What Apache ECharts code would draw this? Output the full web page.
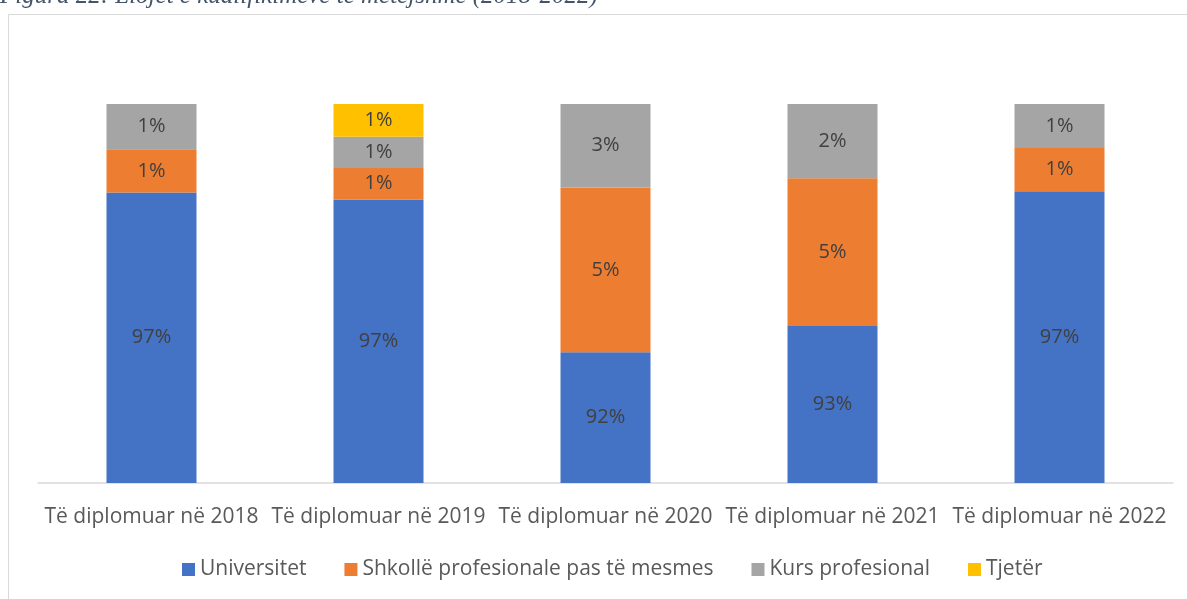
<!DOCTYPE html>
<html>
<head>
<meta charset="utf-8">
<script src="https://cdn.jsdelivr.net/npm/echarts@6/dist/echarts.min.js"></script>
<style>
  html, body { margin: 0; padding: 0; background: #fff; }
  #chart { width: 1187px; height: 599px; }
</style>
</head>
<body>
<div id="chart"></div>
<script>
const categories = ['Të diplomuar në 2018', 'Të diplomuar në 2019', 'Të diplomuar në 2020', 'Të diplomuar në 2021', 'Të diplomuar në 2022']
const universitet = [97.2, 96.98, 92.14, 92.97, 97.24]
const shkolle = [1.37, 0.99, 5.22, 4.68, 1.37]
const kurs = [1.43, 0.99, 2.64, 2.36, 1.4]
const tjeter = [null, 1.05, null, null, null]

const chart = echarts.init(document.getElementById('chart'))

const labelStyle = {
  show: true,
  position: 'inside',
  color: '#404040',
  fontFamily: 'Open Sans',
  fontSize: 20,
  formatter: p => (p.value == null ? '' : Math.round(p.value) + '%')
}

function makeSeries(name, data, color) {
  return {
    name,
    type: 'bar',
    stack: 'total',
    data,
    barWidth: 90,
    clip: true,
    itemStyle: { color },
    label: labelStyle
  }
}

chart.setOption({
  backgroundColor: '#fff',
  animation: false,
  graphic: [
    {
      type: 'rect',
      shape: { x: 8.5, y: 14.5, width: 1200, height: 600 },
      style: { fill: 'none', stroke: '#d9d9d9', lineWidth: 1 }
    },
    {
      type: 'text',
      left: 0,
      top: -16,
      style: {
        text: 'Figura 22: Llojet e kualifikimeve të mëtejshme (2018-2022)',
        font: 'italic 25px "Liberation Serif"',
        fill: '#44546a'
      }
    }
  ],
  grid: { left: 38, right: 14, top: 104, bottom: 116 },
  legend: {
    bottom: 14,
    left: 177,
    itemWidth: 13,
    itemHeight: 13,
    itemGap: 38,
    icon: 'rect',
    textStyle: { color: '#595959', fontFamily: 'Open Sans', fontSize: 21 },
    data: ['Universitet', 'Shkollë profesionale pas të mesmes', 'Kurs profesional', 'Tjetër']
  },
  xAxis: {
    type: 'category',
    data: categories,
    axisLine: { lineStyle: { color: '#d9d9d9', width: 1.5 } },
    axisTick: { show: false },
    axisLabel: { color: '#595959', fontFamily: 'Open Sans', fontSize: 21, margin: 24, interval: 0 }
  },
  yAxis: {
    type: 'value',
    min: 88,
    max: 100,
    show: false,
    splitLine: { show: false }
  },
  series: [
    makeSeries('Universitet', universitet, '#4472c4'),
    makeSeries('Shkollë profesionale pas të mesmes', shkolle, '#ed7d31'),
    makeSeries('Kurs profesional', kurs, '#a5a5a5'),
    makeSeries('Tjetër', tjeter, '#ffc000')
  ]
})
</script>
</body>
</html>
